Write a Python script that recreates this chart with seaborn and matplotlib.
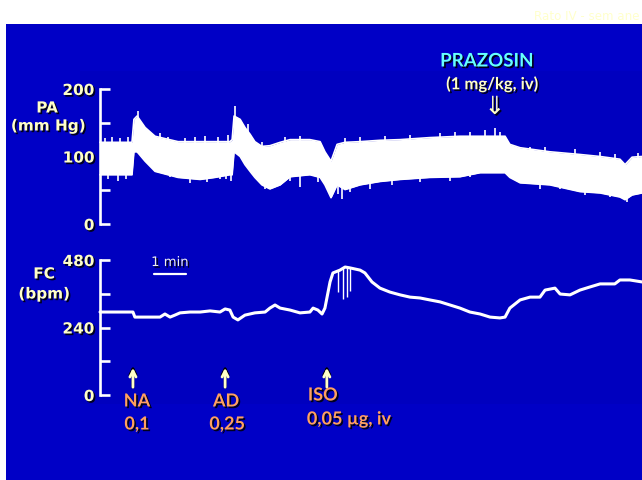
import numpy as np
import pandas as pd
import matplotlib
matplotlib.use("Agg")
import matplotlib.pyplot as plt
import seaborn as sns
from matplotlib.patches import Rectangle
from matplotlib import transforms
import matplotlib.patheffects as pe

# ---------------- data ----------------
# arterial pressure (PA) envelope: time in minutes, systolic / diastolic (mm Hg)
pa_t = [0, 1.0, 1.06, 1.16, 1.41, 1.72, 2.44, 3.13, 3.59, 4.06, 4.13, 4.19, 4.38, 4.53,
        4.69, 4.84, 5.06, 5.31, 5.63, 5.94, 6.56, 6.88, 7.03, 7.22, 7.41, 7.66, 8.13,
        8.75, 9.38, 10.31, 11.25, 11.88, 12.66, 12.81, 13.13, 14.06, 15.0, 15.63, 16.25,
        16.41, 16.63, 16.94]
pa_sys = [121, 121, 155, 160, 143, 130, 122, 122, 122, 122, 125, 160, 155, 143, 133, 122,
          115, 116, 121, 125, 125, 122, 107, 93, 118, 121, 122, 124, 125, 128, 130, 130,
          130, 118, 113, 107, 103, 100, 96, 88, 99, 100]
pa_dia = [73, 73, 107, 107, 93, 78, 69, 66, 69, 73, 73, 107, 100, 88, 78, 69, 58, 52, 58,
          70, 73, 69, 58, 39, 58, 51, 58, 63, 66, 69, 70, 76, 76, 69, 61, 58, 48, 46, 40,
          36, 43, 46]
# individual pressure spikes poking out of the band
pa_top_spike_t = [0.16, 0.38, 0.63, 0.88, 1.19, 1.88, 2.13, 2.66, 2.97, 3.28, 3.69, 4.0, 4.22,
                  4.63, 5.06, 5.78, 6.25, 7.66, 8.13, 8.91, 9.69, 10.63, 11.09, 11.56, 12.03,
                  12.34, 12.5, 13.44, 13.91, 14.84, 15.63, 16.09, 16.81]
pa_top_spike_v = [127, 129, 127, 129, 168, 135, 129, 127, 129, 130, 129, 132, 175,
                  148, 121, 129, 130, 127, 129, 130, 132, 135, 136, 136, 139,
                  142, 136, 114, 114, 111, 107, 104, 105]
pa_bot_spike_t = [0.25, 0.56, 0.81, 1.56, 2.19, 2.81, 3.34, 3.75, 3.94, 4.09, 5.16, 5.94,
                  6.25, 6.81, 7.44, 7.56, 7.81, 8.44, 9.13, 10.0, 10.94, 11.56, 13.75,
                  14.38, 15.16, 15.94, 16.47]
pa_bot_spike_v = [67, 64, 67, 89, 70, 61, 62, 67, 67, 64, 52, 64, 55, 62, 44, 37, 47, 52,
                  58, 62, 64, 70, 52, 52, 43, 40, 33]

# heart rate (FC): time in minutes, bpm
fc_t = [0, 1.03, 1.09, 1.875, 2.03, 2.19, 2.34, 2.5, 2.81, 3.13, 3.44, 3.75, 3.91, 4.06,
        4.16, 4.31, 4.53, 4.84, 5.16, 5.31, 5.47, 5.63, 5.94, 6.25, 6.56, 6.66, 6.81, 6.94,
        7.03, 7.19, 7.28, 7.5, 7.66, 7.81, 8.13, 8.28, 8.5, 8.75, 9.06, 9.38, 9.69, 10.0,
        10.31, 10.63, 10.94, 11.25, 11.56, 11.88, 12.19, 12.5, 12.66, 12.81, 13.13, 13.44,
        13.75, 13.91, 14.22, 14.38, 14.69, 15.0, 15.31, 15.63, 16.09, 16.25, 16.56, 16.94]
fc_bpm = [295, 295, 277, 277, 288, 277, 284, 292, 295, 295, 299, 295, 306, 302, 277, 267,
          284, 292, 295, 309, 320, 309, 302, 292, 295, 309, 302, 288, 309, 402, 434, 444,
          455, 452, 444, 434, 402, 380, 366, 356, 348, 345, 338, 331, 320, 309, 295, 288,
          277, 274, 277, 309, 338, 348, 348, 373, 380, 359, 356, 373, 384, 395, 395, 409,
          409, 402]
fc_spike_t = [7.44, 7.59, 7.72, 7.81]
fc_spike_low = [366, 341, 348, 370]
fc_spike_high = [445, 452, 452, 450]

pa_ticks = [0, 50, 100, 150, 200]
pa_ticklabels = ["0", "", "100", "", "200"]
fc_ticks = [0, 120, 240, 360, 480]
fc_ticklabels = ["0", "", "240", "", "480"]

events = ["NA", "AD", "ISO"]
event_t = [1.03, 3.91, 7.09]
event_dose = ["0,1", "0,25", "0,05 \u00b5g, iv"]
prazosin_t = 12.34
scale_bar = [1.69, 2.69]

# ---------------- figure ----------------
sns.set_theme(style="white")
plt.rcParams["font.family"] = ["DejaVu Sans"]

W, H = 642, 481
fig = plt.figure(figsize=(W / 100, H / 100), dpi=100)
fig.patch.set_facecolor("white")


def fx(px):
    return px / W


def fy(py):
    return 1 - py / H


fig.patches.append(Rectangle((fx(6), 0), 1 - fx(6), fy(25), transform=fig.transFigure,
                             facecolor="#0000C6", edgecolor="none", zorder=-5))
fig.patches.append(Rectangle((fx(80), fy(405)), 1 - fx(80), fy(72) - fy(405),
                             transform=fig.transFigure, facecolor="#0000BF",
                             edgecolor="none", zorder=-4))

YEL = "#FFFFC8"
ORA = "#FFA060"
CYAN = "#66FFFF"
shadow = [pe.withSimplePatchShadow(offset=(1.2, -1.2), shadow_rgbFace="black", alpha=0.85)]

ax_pa = fig.add_axes([fx(100), fy(225), fx(642) - fx(100), fy(90) - fy(225)])
ax_fc = fig.add_axes([fx(100), fy(396), fx(642) - fx(100), fy(261) - fy(396)])

for ax, ticks, labels, lim in [(ax_pa, pa_ticks, pa_ticklabels, 200),
                               (ax_fc, fc_ticks, fc_ticklabels, 480)]:
    ax.set_facecolor("none")
    ax.set_xlim(0, 16.94)
    ax.set_ylim(0, lim)
    for s in ["top", "right", "bottom"]:
        ax.spines[s].set_visible(False)
    ax.spines["left"].set_color("white")
    ax.spines["left"].set_linewidth(1.9)
    ax.set_xticks([])
    ax.set_yticks(ticks)
    ax.set_yticklabels(labels, fontweight="bold", color=YEL, fontsize=11)
    for lab in ax.get_yticklabels():
        lab.set_path_effects(shadow)
    ax.tick_params(axis="y", direction="in", length=7, width=1.9, color="white", pad=4, left=True)

# PA band
pa_df = pd.DataFrame({"t": pa_t, "sys": pa_sys, "dia": pa_dia})
ax_pa.fill_between(pa_df["t"], pa_df["dia"], pa_df["sys"], color="white", lw=0, clip_on=False)
sns.lineplot(data=pa_df, x="t", y="sys", ax=ax_pa, color="white", lw=1.2, clip_on=False)
sns.lineplot(data=pa_df, x="t", y="dia", ax=ax_pa, color="white", lw=1.2, clip_on=False)
mid = (np.array(pa_sys) + np.array(pa_dia)) / 2
ax_pa.vlines(pa_top_spike_t, np.interp(pa_top_spike_t, pa_t, mid), pa_top_spike_v,
             color="white", lw=1.2)
ax_pa.vlines(pa_bot_spike_t, pa_bot_spike_v, np.interp(pa_bot_spike_t, pa_t, mid),
             color="white", lw=1.2)

# FC trace
fc_df = pd.DataFrame({"t": fc_t, "bpm": fc_bpm})
sns.lineplot(data=fc_df, x="t", y="bpm", ax=ax_fc, color="white", lw=2.2, clip_on=False)
ax_fc.vlines(fc_spike_t, fc_spike_low, fc_spike_high, color="white", lw=1)
for ax in (ax_pa, ax_fc):
    ax.set_xlabel("")
    ax.set_ylabel("")

# 1 min scale bar
ax_fc.plot(scale_bar, [430, 430], color="white", lw=1.6, clip_on=False)
ax_fc.text(np.mean(scale_bar), 471, "1 min", ha="center", va="center", color="#F0F0F0",
           fontsize=9.5, path_effects=shadow)

# axis titles
for x, y, s in [(47, 109, "PA"), (48, 127, "(mm Hg)"), (44, 275, "FC"), (44, 295, "(bpm)")]:
    fig.text(fx(x), fy(y), s, ha="center", va="center", color=YEL, fontsize=11,
             fontweight="bold", path_effects=shadow)

# event markers
blend = transforms.blended_transform_factory(ax_fc.transData, fig.transFigure)
for name, t, dose in zip(events, event_t, event_dose):
    ax_fc.annotate("", xy=(t, fy(364)), xytext=(t, fy(391)), xycoords=blend, textcoords=blend,
                   arrowprops=dict(arrowstyle="->", color="black", lw=2, mutation_scale=11))
    ax_fc.annotate("", xy=(t, fy(366)), xytext=(t, fy(391)), xycoords=blend, textcoords=blend,
                   arrowprops=dict(arrowstyle="->", color=YEL, lw=2, mutation_scale=11))
    if name == "ISO":
        kw = dict(ha="left")
        dx1, dx2 = -19, -20
        y1, y2 = 396, 420
    else:
        kw = dict(ha="center")
        dx1, dx2 = (4, 4) if name == "NA" else (1, 2)
        y1, y2 = 402, 425
    ax_fc.annotate(name, xy=(t, fy(y1)), xycoords=blend, xytext=(dx1, 0),
                   textcoords="offset pixels", va="center", color=ORA, fontsize=13,
                   fontweight="bold", family=["Lato", "DejaVu Sans"], path_effects=shadow,
                   annotation_clip=False, **kw)
    ax_fc.annotate(dose, xy=(t, fy(y2)), xycoords=blend, xytext=(dx2, 0),
                   textcoords="offset pixels", va="center", color=ORA, fontsize=13,
                   fontweight="bold", family=["Lato", "DejaVu Sans"], path_effects=shadow,
                   annotation_clip=False, **kw)

# prazosin
blend_pa = transforms.blended_transform_factory(ax_pa.transData, fig.transFigure)
ax_pa.annotate("PRAZOSIN", xy=(prazosin_t, fy(62)), xycoords=blend_pa, xytext=(-8, 0),
               textcoords="offset pixels", ha="center", va="center", color=CYAN, fontsize=13.5,
               fontweight="bold", family=["Lato", "DejaVu Sans"], path_effects=shadow,
               annotation_clip=False)
ax_pa.annotate("(1 mg/kg, iv)", xy=(prazosin_t, fy(85)), xycoords=blend_pa, xytext=(-3, 0),
               textcoords="offset pixels", ha="center", va="center", color=YEL, fontsize=12,
               fontweight="bold", family=["Lato", "DejaVu Sans"], path_effects=shadow,
               annotation_clip=False)
ax_pa.annotate("\u21d3", xy=(prazosin_t, fy(108)), xycoords=blend_pa, ha="center", va="center",
               color=YEL, fontsize=18, path_effects=shadow, annotation_clip=False)

# slide title (visible part of the slide header)
fig.text(fx(639), fy(16), "Rato IV - sem ane", ha="right", va="center", color="#FFFFCC",
         fontsize=8.6)

fig.savefig("out.png", dpi=100, facecolor=fig.get_facecolor())
